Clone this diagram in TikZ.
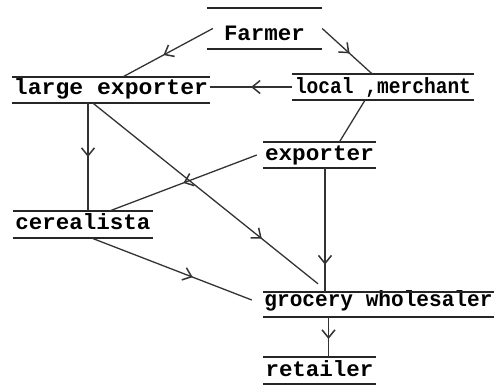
\documentclass[tikz,border=0pt]{standalone}
\usepackage{fontspec}
\usepackage{graphicx}
\setmonofont{Liberation Mono}
\usetikzlibrary{arrows.meta,decorations.markings}
\tikzset{
  lbl/.style={inner sep=0pt, font=\ttfamily\bfseries\fontsize{22}{22}\selectfont, text=black},
  rule/.style={line width=1.7pt, draw=black!85},
  conn/.style={line width=1.3pt, draw=black!80},
  myhead/.tip={Straight Barb[length=8pt,width=13pt,line width=1.5pt]},
  midarrow/.style={postaction={decorate,decoration={markings,mark=at position #1 with {\arrow{myhead}}}}},
  midarrow/.default=0.5
}
\newcommand{\tw}[2]{\resizebox{#1pt}{\height}{#2}}
\begin{document}
\begin{tikzpicture}[x=1pt,y=-1pt]
\useasboundingbox (0,0) rectangle (498,386);
% nodes: text height = baseline - top line, text depth = bottom line - baseline
\node[lbl, minimum width=115pt, text height=32pt, text depth=9pt] (farmer) at (264.5,28.5) {\tw{81}{Farmer}};
\node[lbl, minimum width=198pt, text height=17.5pt, text depth=8.5pt] (le) at (111,90) {\tw{194}{large exporter}};
\node[lbl, minimum width=182pt, text height=19pt, text depth=7pt] (lm) at (383,87) {\tw{176}{local ,merchant}};
\node[lbl, minimum width=113pt, text height=18.5pt, text depth=7.5pt] (ex) at (319.5,155) {\tw{109}{exporter}};
\node[lbl, minimum width=140pt, text height=18pt, text depth=9pt] (ce) at (83,224.5) {\tw{135}{cerealista}};
\node[lbl, minimum width=231pt, text height=14.5pt, text depth=10.5pt] (gw) at (378.5,304.5) {\tw{228}{grocery wholesaler}};
\node[lbl, minimum width=113pt, text height=19.5pt, text depth=7.5pt] (re) at (319.5,370.5) {\tw{108}{retailer}};
% rules above and below each label
\foreach \n in {farmer,le,lm,ex,ce,gw,re}{
  \draw[rule] (\n.north west) -- (\n.north east);
  \draw[rule] (\n.south west) -- (\n.south east);
}
% connectors
\draw[conn, midarrow=0.55] ([xshift=6pt]farmer.west) -- ([xshift=12pt]le.north);
\draw[conn, midarrow=0.55] (farmer.east) -- ([xshift=-11pt]lm.north);
\draw[conn, midarrow] (lm.west) -- (le.east |- lm.west);
\draw[conn] ([xshift=-18pt]lm.south) -- ([xshift=20pt]ex.north);
\draw[conn, midarrow] ([xshift=-23pt]le.south) -- ([xshift=5pt]ce.north);
\draw[conn, midarrow=0.75] ([xshift=-18pt]le.south) -- ([xshift=-60.5pt,yshift=8pt]gw.north);
\draw[conn, midarrow] ([xshift=-6pt]ex.west) -- ([xshift=27pt]ce.north);
\draw[conn, midarrow=0.78] ([xshift=5.5pt]ex.south) -- ([xshift=-53.5pt]gw.north);
\draw[conn, midarrow=0.63] ([xshift=9pt]ce.south) -- ([xshift=-11pt,yshift=4.5pt]gw.west);
\draw[conn, midarrow=0.55] ([xshift=-50pt]gw.south) -- ([xshift=9pt]re.north);
\end{tikzpicture}
\end{document}
